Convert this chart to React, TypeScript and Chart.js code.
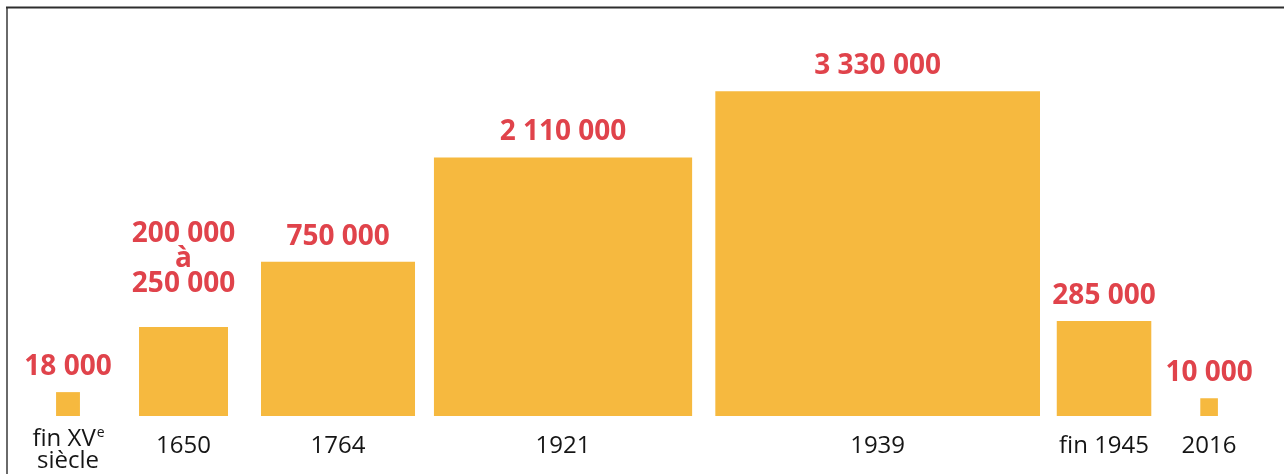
import React, { useEffect, useRef } from "react";
import { Chart, registerables } from "chart.js";

Chart.register(...registerables);

// ---- data ----
const categories = ["fin XVᵉ\nsiècle", "1650", "1764", "1921", "1939", "fin 1945", "2016"];
const populations = [18000, 250000, 750000, 2110000, 3330000, 285000, 10000];
const valueLabels = ["18 000", "200 000\nà\n250 000", "750 000", "2 110 000", "3 330 000", "285 000", "10 000"];
// position of each period along the (square-root scaled) horizontal axis
const slotCenters = [382, 1031, 1899, 3163, 4930, 6202, 6792];

const BAR_COLOR = "#F6B93F";
const VALUE_COLOR = "#E0434B";
const TEXT_COLOR = "#151515";
const VALUE_FONT = 'bold 28px "Open Sans"';
const CAT_FONT = '24px "Open Sans"';
const SUP_FONT = '14px "Open Sans"';

const labelsPlugin = {
  id: "squareLabels",
  afterDatasetsDraw(chart: any) {
    const ctx: CanvasRenderingContext2D = chart.ctx;
    const xs = chart.scales.x;
    const ys = chart.scales.y;
    const base = ys.getPixelForValue(0);
    ctx.save();
    ctx.textBaseline = "alphabetic";
    populations.forEach((v, i) => {
      const cx = xs.getPixelForValue(slotCenters[i]);
      const top = ys.getPixelForValue(Math.sqrt(v));
      // value labels
      ctx.font = VALUE_FONT;
      ctx.fillStyle = VALUE_COLOR;
      ctx.textAlign = "center";
      const lines = valueLabels[i].split("\n");
      const gap = 17 + 9 * (lines.length - 1);
      lines.forEach((ln, j) => {
        ctx.fillText(ln, cx, top - gap - (lines.length - 1 - j) * 25);
      });
      // category labels
      ctx.fillStyle = TEXT_COLOR;
      const cl = categories[i].split("\n");
      const first = base + 37 - (cl.length - 1) * 7;
      cl.forEach((ln, j) => {
        const y = first + j * 22;
        const supIdx = ln.indexOf("ᵉ");
        if (supIdx >= 0) {
          const main = ln.slice(0, supIdx);
          ctx.font = CAT_FONT;
          const w1 = ctx.measureText(main).width;
          ctx.font = SUP_FONT;
          const w2 = ctx.measureText("e").width;
          const x0 = cx - (w1 + w2) / 2;
          ctx.textAlign = "left";
          ctx.font = CAT_FONT;
          ctx.fillText(main, x0, y);
          ctx.font = SUP_FONT;
          ctx.fillText("e", x0 + w1 + 1, y - 9);
          ctx.textAlign = "center";
        } else {
          ctx.font = CAT_FONT;
          ctx.textAlign = "center";
          ctx.fillText(ln, cx, y);
        }
      });
    });
    ctx.restore();
  },
  afterDraw(chart: any) {
    const ctx: CanvasRenderingContext2D = chart.ctx;
    ctx.save();
    ctx.lineWidth = 2;
    ctx.strokeStyle = "#6a6a6a";
    ctx.beginPath();
    ctx.moveTo(7, 7);
    ctx.lineTo(7, chart.height);
    ctx.stroke();
    ctx.strokeStyle = "#2e2e2e";
    ctx.beginPath();
    ctx.moveTo(6, 7.5);
    ctx.lineTo(chart.width, 7.5);
    ctx.stroke();
    ctx.restore();
  },
};

export default function App() {
  const ref = useRef<HTMLCanvasElement | null>(null);

  useEffect(() => {
    let chart: Chart | null = null;
    let cancelled = false;
    const build = () => {
      if (cancelled || !ref.current) return;
      const datasets = populations.map((v, i) => {
        const side = Math.sqrt(v);
        return {
          label: categories[i],
          data: [
            { x: slotCenters[i] - side / 2, y: side },
            { x: slotCenters[i] + side / 2, y: side },
          ],
          showLine: true,
          fill: "origin",
          backgroundColor: BAR_COLOR,
          borderColor: BAR_COLOR,
          borderWidth: 0,
          pointRadius: 0,
          tension: 0,
        };
      });
      chart = new Chart(ref.current, {
        type: "scatter",
        data: { datasets: datasets as any },
        options: {
          responsive: false,
          animation: false,
          layout: { padding: { top: 0, left: 0, right: 0, bottom: 58 } },
          plugins: { legend: { display: false }, tooltip: { enabled: false } },
          scales: {
            x: { type: "linear", min: 0, max: 7213, display: false },
            y: { type: "linear", min: 0, max: 2337, display: false },
          },
        },
        plugins: [labelsPlugin],
      });
    };
    const fontsReady = (document as any).fonts
      ? Promise.all([
          (document as any).fonts.load(VALUE_FONT),
          (document as any).fonts.load(CAT_FONT),
        ]).catch(() => null)
      : Promise.resolve(null);
    fontsReady.then(build);
    return () => {
      cancelled = true;
      if (chart) chart.destroy();
    };
  }, []);

  return (
    <div style={{ position: "absolute", left: 0, top: 0, width: 1284, height: 474, background: "#ffffff" }}>
      <canvas ref={ref} width={1284} height={474} style={{ display: "block" }} />
    </div>
  );
}
